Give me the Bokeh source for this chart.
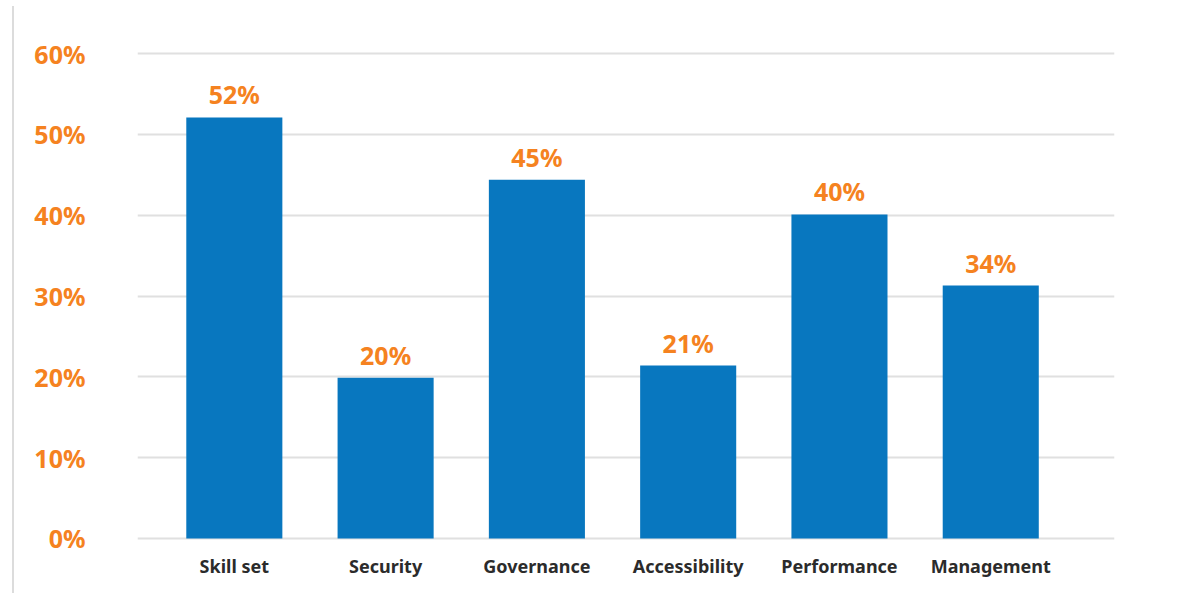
from bokeh.plotting import figure
from bokeh.models import ColumnDataSource, Range1d, FixedTicker, Div
from bokeh.layouts import row
from bokeh.core.properties import value
from bokeh.embed import file_html
from bokeh.resources import INLINE

categories = ["Skill set", "Security", "Governance", "Accessibility", "Performance", "Management"]
bar_values = [52.1, 19.9, 44.4, 21.4, 40.1, 31.3]
bar_labels = ["52%", "20%", "45%", "21%", "40%", "34%"]
y_ticks = [0, 10, 20, 30, 40, 50, 60]
y_tick_labels = ["0%", "10%", "20%", "30%", "40%", "50%", "60%"]

BLUE = "#0877BF"
ORANGE = "#F58220"
FONT = "Noto Sans"

idx = list(range(len(categories)))
src = ColumnDataSource(dict(x=idx, top=bar_values, label=bar_labels, cat=categories))

p = figure(width=1148, height=593, output_backend="svg", toolbar_location=None,
           x_range=Range1d(-0.64, 5.818), y_range=Range1d(-0.5, 61),
           min_border_left=123, min_border_right=48, min_border_top=45, min_border_bottom=51,
           margin=0)
p.outline_line_color = None
p.background_fill_color = "white"
p.border_fill_color = "white"

p.vbar(x="x", top="top", bottom=0, width=0.635, source=src, fill_color=BLUE, line_color=None)
p.text(x="x", y="top", text="label", source=src, text_align="center", text_baseline="middle",
       y_offset=-23, text_color=ORANGE, text_font=value(FONT), text_font_style="bold",
       text_font_size="25px")

# axes
p.xaxis.ticker = FixedTicker(ticks=idx)
p.xaxis.major_label_overrides = {i: c for i, c in zip(idx, categories)}
p.xaxis.axis_line_color = None
p.xaxis.major_tick_line_color = None
p.xaxis.minor_tick_line_color = None
p.xaxis.major_label_text_font = FONT
p.xaxis.major_label_text_font_style = "bold"
p.xaxis.major_label_text_font_size = "18px"
p.xaxis.major_label_text_color = "#2b2b2b"
p.xaxis.major_label_standoff = 5

p.yaxis.ticker = FixedTicker(ticks=y_ticks)
p.yaxis.major_label_overrides = {t: l for t, l in zip(y_ticks, y_tick_labels)}
p.yaxis.axis_line_color = None
p.yaxis.major_tick_line_color = None
p.yaxis.minor_tick_line_color = None
p.yaxis.major_label_text_font = FONT
p.yaxis.major_label_text_font_style = "bold"
p.yaxis.major_label_text_font_size = "25px"
p.yaxis.major_label_text_color = ORANGE
p.yaxis.major_label_standoff = 46

p.xgrid.grid_line_color = None
p.ygrid.grid_line_color = "#e0e0e0"
p.ygrid.grid_line_width = 2
p.ygrid.ticker = FixedTicker(ticks=y_ticks)

# left decorative vertical rule
rule = Div(text='<div style="margin:6px 0 0 12px;padding:0;width:2px;height:587px;background:#dcdcdc"></div>',
           width=14, height=593, margin=0, styles={"padding": "0", "margin": "0"})
layout = row(rule, p, spacing=0, margin=0)

open("out.html", "w").write(file_html(layout, INLINE))
